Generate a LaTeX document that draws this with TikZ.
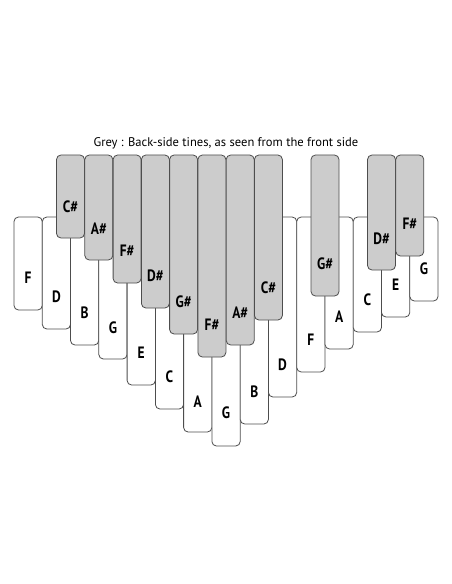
\documentclass[tikz,border=0pt]{standalone}
\usepackage{fontspec}
\setmainfont{PT Sans}
\newfontfamily\tinefont[FakeStretch=0.82]{PT Sans}
\definecolor{backgrey}{HTML}{CCCCCC}
\definecolor{edgegrey}{HTML}{4D4D4D}
\tikzset{
    wtine/.style={draw=edgegrey, fill=white, line width=0.8bp, rounded corners=4.5bp},
    btine/.style={draw=edgegrey, fill=backgrey, line width=0.8bp, rounded corners=4.5bp},
    notelabel/.style={font=\tinefont\bfseries\fontsize{16.5}{16.5}\selectfont, inner sep=0pt}
}
\begin{document}
\begin{tikzpicture}[x=1bp, y=-1bp]
        \useasboundingbox (0,0) rectangle (452,584);
        \node[font=\fontsize{12.6}{14}\selectfont] (title) at (226,143) {Grey : Back-side tines, as seen from the front side};
        % front tines
        \draw[wtine] (14.0,217) rectangle (42.3,310);
        \draw[wtine] (42.3,217) rectangle (70.5,329);
        \draw[wtine] (70.5,217) rectangle (98.8,345);
        \draw[wtine] (98.8,217) rectangle (127.1,359);
        \draw[wtine] (127.1,217) rectangle (155.4,385);
        \draw[wtine] (155.4,217) rectangle (183.6,409);
        \draw[wtine] (183.6,217) rectangle (211.9,432);
        \draw[wtine] (211.9,217) rectangle (240.2,446);
        \draw[wtine] (240.2,217) rectangle (268.4,424);
        \draw[wtine] (268.4,217) rectangle (296.7,397);
        \draw[wtine] (296.7,217) rectangle (325.0,372);
        \draw[wtine] (325.0,217) rectangle (353.2,349);
        \draw[wtine] (353.2,217) rectangle (381.5,332);
        \draw[wtine] (381.5,217) rectangle (409.8,317);
        \draw[wtine] (409.8,217) rectangle (438.0,301);
        \node[notelabel] (fF1) at (28.1,278) {F};
        \node[notelabel] (fD1) at (56.4,297) {D};
        \node[notelabel] (fB1) at (84.7,313) {B};
        \node[notelabel] (fG1) at (113.0,328) {G};
        \node[notelabel] (fE1) at (141.2,353) {E};
        \node[notelabel] (fC1) at (169.5,377) {C};
        \node[notelabel] (fA1) at (197.8,402) {A};
        \node[notelabel] (fG2) at (226.0,413) {G};
        \node[notelabel] (fB2) at (254.3,392) {B};
        \node[notelabel] (fD2) at (282.6,365) {D};
        \node[notelabel] (fF2) at (310.8,340) {F};
        \node[notelabel] (fA2) at (339.1,317) {A};
        \node[notelabel] (fC2) at (367.4,300) {C};
        \node[notelabel] (fE2) at (395.7,285) {E};
        \node[notelabel] (fG3) at (423.9,269) {G};
        % back tines
        \draw[btine] (56.5,155) rectangle (84.5,238);
        \draw[btine] (84.8,155) rectangle (112.8,260);
        \draw[btine] (113.1,155) rectangle (141.1,283);
        \draw[btine] (141.4,155) rectangle (169.4,308);
        \draw[btine] (169.6,155) rectangle (197.6,334);
        \draw[btine] (197.9,155) rectangle (225.9,357);
        \draw[btine] (226.2,155) rectangle (254.2,345);
        \draw[btine] (254.4,155) rectangle (282.4,320);
        \draw[btine] (311.0,155) rectangle (339.0,296);
        \draw[btine] (367.5,155) rectangle (395.5,270);
        \draw[btine] (395.8,155) rectangle (423.8,256);
        \node[notelabel] (bC1) at (70.5,207) {C\#};
        \node[notelabel] (bA1) at (98.8,229) {A\#};
        \node[notelabel] (bF1) at (127.1,251) {F\#};
        \node[notelabel] (bD1) at (155.4,276) {D\#};
        \node[notelabel] (bG1) at (183.6,302) {G\#};
        \node[notelabel] (bF2) at (211.9,325) {F\#};
        \node[notelabel] (bA2) at (240.2,313) {A\#};
        \node[notelabel] (bC2) at (268.4,288) {C\#};
        \node[notelabel] (bG2) at (325.0,264) {G\#};
        \node[notelabel] (bD2) at (381.5,239) {D\#};
        \node[notelabel] (bF3) at (409.8,224) {F\#};
\end{tikzpicture}
\end{document}
